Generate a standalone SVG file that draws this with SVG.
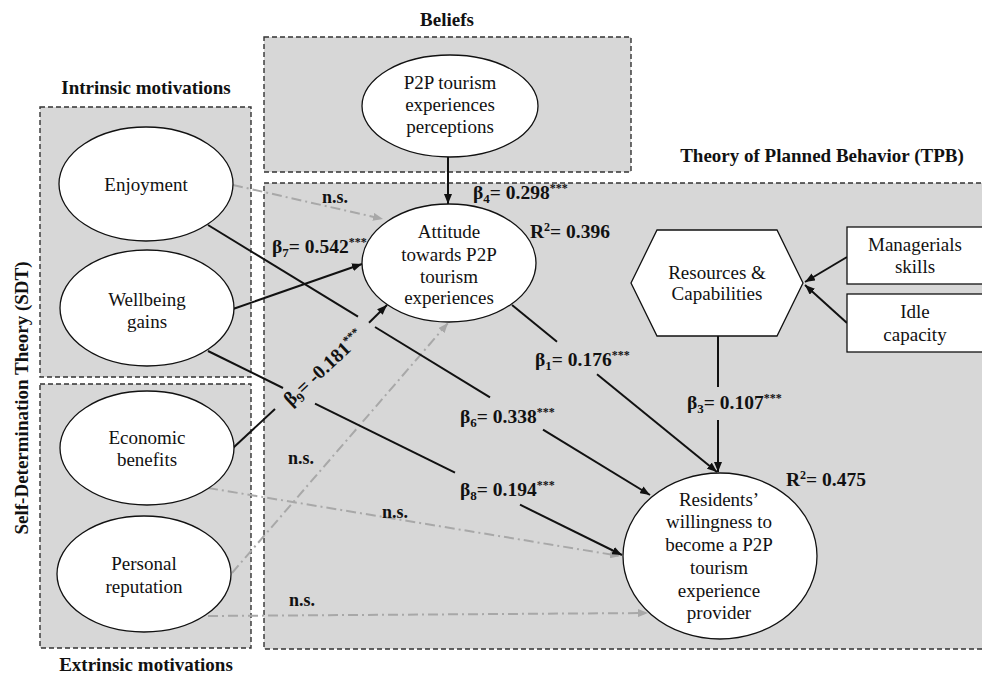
<svg xmlns="http://www.w3.org/2000/svg" width="982" height="676" viewBox="0 0 982 676">
<style>
.bg{fill:#d7d7d7;stroke:#333;stroke-width:1.4;stroke-dasharray:5,3}
.node{fill:#fff;stroke:#111;stroke-width:1.3}
.t{font-family:"Liberation Serif","Times New Roman",serif;font-size:19px;fill:#111;text-anchor:middle}
.b{font-family:"Liberation Serif","Times New Roman",serif;font-size:18px;font-weight:bold;fill:#111}
.k{font-family:"Liberation Serif","Times New Roman",serif;font-size:19.5px;font-weight:bold;fill:#111}
.h{font-family:"Liberation Serif","Times New Roman",serif;font-size:19px;font-weight:bold;fill:#111;text-anchor:middle}
.s{stroke:#111;stroke-width:2;fill:none}
.g{stroke:#a8a8a8;stroke-width:2;fill:none;stroke-dasharray:10,4,2,4}
</style>
<defs>
<marker id="ab" viewBox="0 0 10 8" refX="10" refY="4" markerWidth="10" markerHeight="8" markerUnits="userSpaceOnUse" orient="auto"><path d="M0,0 L10,4 L0,8 z" fill="#111"/></marker>
<marker id="ag" viewBox="0 0 10 8" refX="10" refY="4" markerWidth="10" markerHeight="8" markerUnits="userSpaceOnUse" orient="auto"><path d="M0,0 L10,4 L0,8 z" fill="#a8a8a8"/></marker>
</defs>
<rect width="982" height="676" fill="#fff"/>
<g id="groups">
<rect class="bg" x="264" y="37" width="367" height="135"/>
<rect class="bg" x="40" y="107" width="211" height="270"/>
<rect class="bg" x="40" y="384" width="211" height="264"/>
<rect class="bg" x="264" y="183" width="730" height="466"/>
<text class="h" x="447" y="26">Beliefs</text>
<text class="h" x="146" y="94">Intrinsic motivations</text>
<text class="h" x="822" y="162">Theory of Planned Behavior (TPB)</text>
<text class="h" x="146" y="671">Extrinsic motivations</text>
<text class="h" transform="translate(28,398) rotate(-90)" x="0" y="0">Self-Determination Theory (SDT)</text>
</g>
<g id="connectors">
<line class="g" x1="233" y1="185" x2="383" y2="219" marker-end="url(#ag)"/>
<line class="g" x1="208" y1="488" x2="620" y2="556" marker-end="url(#ag)"/>
<line class="g" x1="232" y1="573" x2="448" y2="323" marker-end="url(#ag)"/>
<line class="g" x1="208" y1="616" x2="648" y2="613" marker-end="url(#ag)"/>
<line class="s" x1="448" y1="157" x2="448" y2="204" marker-end="url(#ab)"/>
<line class="s" x1="233" y1="309" x2="362" y2="264" marker-end="url(#ab)"/>
<line class="s" x1="208" y1="225" x2="358" y2="316.6"/>
<line class="s" x1="375" y1="327" x2="490" y2="397.3"/>
<line class="s" x1="543" y1="429.7" x2="650" y2="495" marker-end="url(#ab)"/>
<line class="s" x1="208" y1="351" x2="283" y2="388"/>
<line class="s" x1="315" y1="403.7" x2="455" y2="472.7"/>
<line class="s" x1="520" y1="504.7" x2="622" y2="555" marker-end="url(#ab)"/>
<line class="s" x1="233" y1="448" x2="275" y2="409"/>
<line class="s" x1="369" y1="322.7" x2="387" y2="305" marker-end="url(#ab)"/>
<line class="s" x1="512" y1="305" x2="557" y2="341.7"/>
<line class="s" x1="597" y1="374.2" x2="717" y2="472" marker-end="url(#ab)"/>
<line class="s" x1="718" y1="336" x2="718" y2="387"/>
<line class="s" x1="718" y1="420" x2="718" y2="472" marker-end="url(#ab)"/>
<line class="s" x1="847" y1="257" x2="805" y2="282" marker-end="url(#ab)"/>
<line class="s" x1="847" y1="323" x2="805" y2="285" marker-end="url(#ab)"/>
</g>
<g id="labels">
<text class="k" x="473" y="199">β<tspan font-size="13" dy="4">4</tspan><tspan dy="-4">= 0.298</tspan><tspan font-size="12" dy="-7">***</tspan></text>
<text class="k" x="530" y="238">R<tspan font-size="12" dy="-7">2</tspan><tspan dy="7">= 0.396</tspan></text>
<text class="k" x="272" y="253">β<tspan font-size="13" dy="4">7</tspan><tspan dy="-4">= 0.542</tspan><tspan font-size="12" dy="-7">***</tspan></text>
<text class="k" x="535" y="366">β<tspan font-size="13" dy="4">1</tspan><tspan dy="-4">= 0.176</tspan><tspan font-size="12" dy="-7">***</tspan></text>
<text class="k" x="460" y="423">β<tspan font-size="13" dy="4">6</tspan><tspan dy="-4">= 0.338</tspan><tspan font-size="12" dy="-7">***</tspan></text>
<text class="k" x="687" y="409">β<tspan font-size="13" dy="4">3</tspan><tspan dy="-4">= 0.107</tspan><tspan font-size="12" dy="-7">***</tspan></text>
<text class="k" x="460" y="496">β<tspan font-size="13" dy="4">8</tspan><tspan dy="-4">= 0.194</tspan><tspan font-size="12" dy="-7">***</tspan></text>
<text class="k" x="786" y="486">R<tspan font-size="12" dy="-7">2</tspan><tspan dy="7">= 0.475</tspan></text>
<text class="k" transform="translate(324,368) rotate(-43)" x="0" y="6" text-anchor="middle">β<tspan font-size="13" dy="4">9</tspan><tspan dy="-4">= -0.181</tspan><tspan font-size="12" dy="-7">***</tspan></text>
<text class="b" x="322" y="203">n.s.</text>
<text class="b" x="288" y="464">n.s.</text>
<text class="b" x="382" y="518">n.s.</text>
<text class="b" x="289" y="606">n.s.</text>
</g>
<g id="n-perceptions">
<ellipse class="node" cx="450" cy="106" rx="88" ry="51"/>
<text class="t" x="450" y="89">P2P tourism</text>
<text class="t" x="450" y="111">experiences</text>
<text class="t" x="450" y="133">perceptions</text>
</g>
<g id="n-enjoyment">
<ellipse class="node" cx="146" cy="184" rx="87" ry="57"/>
<text class="t" x="146" y="191">Enjoyment</text>
</g>
<g id="n-wellbeing">
<ellipse class="node" cx="147" cy="308" rx="87" ry="58"/>
<text class="t" x="147" y="306">Wellbeing</text>
<text class="t" x="147" y="328">gains</text>
</g>
<g id="n-economic">
<ellipse class="node" cx="147" cy="448" rx="87" ry="57"/>
<text class="t" x="147" y="444">Economic</text>
<text class="t" x="147" y="466">benefits</text>
</g>
<g id="n-reputation">
<ellipse class="node" cx="144" cy="574" rx="87" ry="58"/>
<text class="t" x="144" y="570">Personal</text>
<text class="t" x="144" y="593">reputation</text>
</g>
<g id="n-attitude">
<ellipse class="node" cx="449" cy="263" rx="87" ry="59"/>
<text class="t" x="449" y="238">Attitude</text>
<text class="t" x="449" y="261">towards P2P</text>
<text class="t" x="449" y="283">tourism</text>
<text class="t" x="449" y="304">experiences</text>
</g>
<g id="n-residents">
<ellipse class="node" cx="720" cy="556" rx="97" ry="83"/>
<text class="t" x="719" y="506">Residents’</text>
<text class="t" x="719" y="528">willingness to</text>
<text class="t" x="719" y="551">become a P2P</text>
<text class="t" x="719" y="574">tourism</text>
<text class="t" x="719" y="597">experience</text>
<text class="t" x="719" y="619">provider</text>
</g>
<g id="n-resources">
<polygon class="node" points="631,283 657,230 777,230 803,283 777,336 657,336"/>
<text class="t" x="717" y="279">Resources &amp;</text>
<text class="t" x="717" y="300">Capabilities</text>
</g>
<g id="n-managerial">
<rect class="node" x="847" y="227" width="140" height="57"/>
<text class="t" x="915" y="251">Managerials</text>
<text class="t" x="915" y="273">skills</text>
</g>
<g id="n-idle">
<rect class="node" x="847" y="294" width="140" height="58"/>
<text class="t" x="915" y="318">Idle</text>
<text class="t" x="915" y="341">capacity</text>
</g>
</svg>
